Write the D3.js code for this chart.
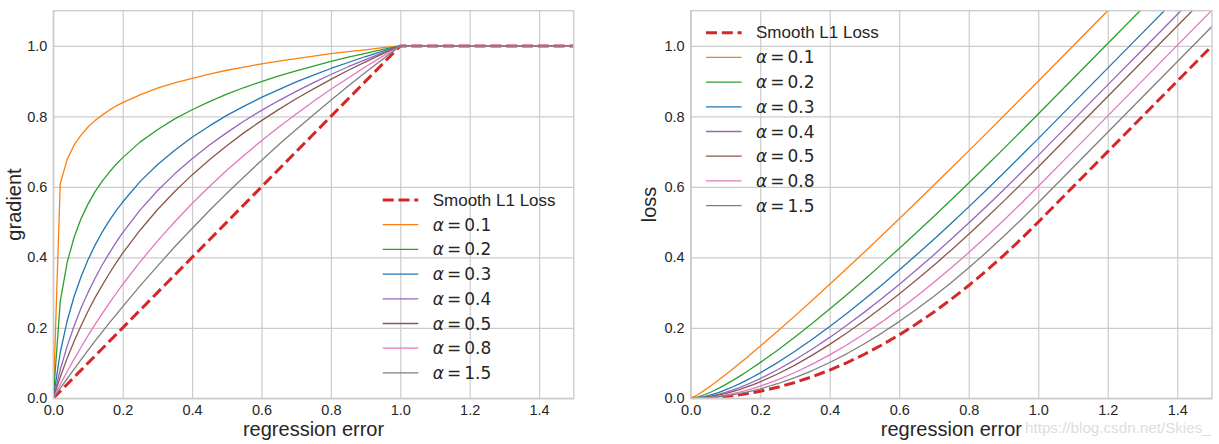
<!DOCTYPE html>
<html>
<head>
<meta charset="utf-8">
<script src="https://cdn.jsdelivr.net/npm/d3@7"></script>
<style>
  html, body { margin: 0; padding: 0; background: #fff; }
  svg { display: block; }
</style>
</head>
<body>
<svg id="chart" width="1219" height="444"></svg>
<script>
// ---------------- data ----------------
const regressionError = [0, 0.02, 0.04, 0.06, 0.08, 0.10, 0.12, 0.14, 0.16, 0.18, 0.20,
  0.25, 0.30, 0.35, 0.40, 0.45, 0.50, 0.55, 0.60, 0.65, 0.70, 0.75, 0.80, 0.85, 0.90, 0.95, 1.00,
  1.10, 1.20, 1.30, 1.40, 1.50];

const seriesNames = ["Smooth L1 Loss", "0.1", "0.2", "0.3", "0.4", "0.5", "0.8", "1.5"];

// gradient panel
const gradSmoothL1 = [0, .02, .04, .06, .08, .10, .12, .14, .16, .18, .20, .25, .30, .35, .40, .45, .50, .55, .60, .65, .70, .75, .80, .85, .90, .95, 1, 1, 1, 1, 1, 1];
const gradAlpha01 = [0, .609, .678, .719, .747, .770, .788, .803, .817, .829, .839, .861, .880, .895, .908, .920, .931, .940, .949, .957, .964, .971, .978, .984, .989, .995, 1, 1, 1, 1, 1, 1];
const gradAlpha02 = [0, .275, .386, .457, .510, .551, .586, .615, .640, .663, .683, .727, .762, .793, .819, .842, .863, .882, .899, .915, .929, .943, .956, .968, .979, .990, 1, 1, 1, 1, 1, 1];
const gradAlpha03 = [0, .130, .220, .289, .345, .393, .434, .470, .502, .531, .557, .615, .663, .704, .741, .773, .803, .829, .854, .876, .898, .917, .936, .953, .970, .985, 1, 1, 1, 1, 1, 1];
const gradAlpha04 = [0, .081, .148, .205, .256, .300, .340, .377, .410, .441, .470, .534, .589, .637, .680, .719, .754, .787, .817, .845, .871, .896, .919, .941, .961, .981, 1, 1, 1, 1, 1, 1];
const gradAlpha05 = [0, .060, .114, .162, .206, .247, .285, .319, .352, .383, .412, .477, .535, .587, .634, .677, .717, .754, .788, .820, .850, .878, .905, .931, .955, .978, 1, 1, 1, 1, 1, 1];
const gradAlpha08 = [0, .039, .076, .111, .145, .178, .209, .239, .268, .296, .323, .387, .446, .501, .553, .601, .647, .690, .731, .770, .807, .843, .877, .909, .941, .971, 1, 1, 1, 1, 1, 1];
const gradAlpha15 = [0, .028, .056, .083, .110, .136, .162, .187, .212, .236, .260, .319, .375, .430, .482, .533, .582, .629, .675, .720, .763, .805, .846, .886, .925, .963, 1, 1, 1, 1, 1, 1];

// loss panel
const lossSmoothL1 = [0, .0002, .0008, .0018, .0032, .005, .0072, .0098, .0128, .0162, .02, .0313, .045, .0613, .08, .1013, .125, .1513, .18, .2113, .245, .2813, .32, .3613, .405, .4513, .5, .6, .7, .8, .9, 1.0];
const lossAlpha01 = [0, .0102, .0232, .0372, .0518, .0670, .0826, .0985, .1147, .1312, .1479, .1904, .2339, .2783, .3234, .3691, .4154, .4622, .5094, .5570, .6051, .6535, .7022, .7512, .8006, .8502, .9000, 1.0, 1.1, 1.2, 1.3, 1.4];
const lossAlpha02 = [0, .0034, .0101, .0186, .0282, .0389, .0503, .0623, .0748, .0879, .1013, .1366, .1739, .2128, .2531, .2946, .3372, .3808, .4253, .4707, .5168, .5636, .6110, .6591, .7078, .7570, .8068, .9068, 1.0068, 1.1068, 1.2068, 1.3068];
const lossAlpha03 = [0, .0014, .0049, .0101, .0164, .0238, .0321, .0411, .0508, .0612, .0721, .1014, .1334, .1676, .2037, .2416, .2810, .3218, .3639, .4071, .4515, .4969, .5432, .5904, .6385, .6874, .7370, .8370, .9370, 1.0370, 1.1370, 1.2370];
const lossAlpha04 = [0, .0008, .0031, .0067, .0113, .0169, .0233, .0305, .0383, .0469, .0560, .0811, .1092, .1398, .1728, .2078, .2446, .2831, .3233, .3648, .4077, .4519, .4973, .5438, .5913, .6399, .6894, .7894, .8894, .9894, 1.0894, 1.1894];
const lossAlpha05 = [0, .0006, .0024, .0051, .0088, .0134, .0187, .0247, .0315, .0388, .0468, .0690, .0943, .1224, .1530, .1858, .2207, .2574, .2960, .3362, .3779, .4211, .4657, .5116, .5588, .6071, .6565, .7565, .8565, .9565, 1.0565, 1.1565];
const lossAlpha08 = [0, .0004, .0015, .0034, .0060, .0092, .0131, .0176, .0227, .0283, .0345, .0523, .0732, .0969, .1232, .1521, .1833, .2168, .2523, .2899, .3293, .3706, .4135, .4582, .5045, .5523, .6016, .7016, .8016, .9016, 1.0016, 1.1016];
const lossAlpha15 = [0, .0003, .0011, .0025, .0044, .0069, .0099, .0134, .0173, .0218, .0268, .0413, .0586, .0788, .1016, .1270, .1548, .1851, .2177, .2526, .2897, .3289, .3702, .4136, .4589, .5061, .5552, .6552, .7552, .8552, .9552, 1.0552];

const xTickValues = [0, 0.2, 0.4, 0.6, 0.8, 1.0, 1.2, 1.4];
const yTickValues = [0, 0.2, 0.4, 0.6, 0.8, 1.0];

// ---------------- drawing ----------------
const colors = ["#d62728", "#ff7f0e", "#2ca02c", "#1f77b4", "#9467bd", "#8c564b", "#e377c2", "#7f7f7f"];
const svg = d3.select("#chart");
const textColor = "#262626";
const gridColor = "#cccccc";
const sansFont = "'Liberation Sans', Arial, sans-serif";
const mathFont = "'DejaVu Sans', sans-serif";

const panels = [
  { id: "g", left: 53.3, right: 573.8, ylabel: "gradient", ylabelX: 14,
    series: [gradSmoothL1, gradAlpha01, gradAlpha02, gradAlpha03, gradAlpha04, gradAlpha05, gradAlpha08, gradAlpha15],
    legend: { lineX: 382.7, textX: 432.7, y0: 200 } },
  { id: "l", left: 690.7, right: 1212.0, ylabel: "loss", ylabelX: 649,
    series: [lossSmoothL1, lossAlpha01, lossAlpha02, lossAlpha03, lossAlpha04, lossAlpha05, lossAlpha08, lossAlpha15],
    legend: { lineX: 706, textX: 756, y0: 32.7 } }
];

const plotTop = 10.7, plotBottom = 398.3;

panels.forEach(p => {
  const x = d3.scaleLinear().domain([0, 1.5]).range([p.left, p.right]);
  const y = d3.scaleLinear().domain([0, 1.1]).range([plotBottom, plotTop]);
  const w = p.right - p.left, h = plotBottom - plotTop;

  // grid
  svg.append("g").attr("transform", `translate(0,${plotBottom})`)
    .call(d3.axisBottom(x).tickValues(xTickValues).tickSize(-h).tickFormat(""))
    .call(g => g.select(".domain").remove())
    .call(g => g.selectAll("line").attr("stroke", gridColor).attr("stroke-width", 1.2));
  svg.append("g").attr("transform", `translate(${p.left},0)`)
    .call(d3.axisLeft(y).tickValues(yTickValues).tickSize(-w).tickFormat(""))
    .call(g => g.select(".domain").remove())
    .call(g => g.selectAll("line").attr("stroke", gridColor).attr("stroke-width", 1.2));

  // tick labels
  svg.append("g").attr("transform", `translate(0,${plotBottom})`)
    .call(d3.axisBottom(x).tickValues(xTickValues).tickSize(0).tickPadding(6).tickFormat(d3.format(".1f")))
    .call(g => g.select(".domain").remove())
    .call(g => g.selectAll("text").attr("fill", textColor).attr("font-size", 14.5).attr("font-family", sansFont));
  svg.append("g").attr("transform", `translate(${p.left},0)`)
    .call(d3.axisLeft(y).tickValues(yTickValues).tickSize(0).tickPadding(6).tickFormat(d3.format(".1f")))
    .call(g => g.select(".domain").remove())
    .call(g => g.selectAll("text").attr("fill", textColor).attr("font-size", 14.5).attr("font-family", sansFont));

  // clip
  svg.append("clipPath").attr("id", "clip-" + p.id)
    .append("rect").attr("x", p.left).attr("y", plotTop).attr("width", w).attr("height", h);

  const line = d3.line().x((d, i) => x(regressionError[i])).y(d => y(d));
  const lines = svg.append("g").attr("clip-path", `url(#clip-${p.id})`);
  p.series.forEach((s, k) => {
    lines.append("path").datum(s)
      .attr("d", line)
      .attr("fill", "none")
      .attr("stroke", colors[k])
      .attr("stroke-width", k === 0 ? 3 : 1.3)
      .attr("stroke-dasharray", k === 0 ? "11,4.8" : null)
      .attr("stroke-linejoin", "round");
  });

  // spines
  svg.append("rect").attr("x", p.left).attr("y", plotTop).attr("width", w).attr("height", h)
    .attr("fill", "none").attr("stroke", gridColor).attr("stroke-width", 1.4);

  // axis labels
  svg.append("text").attr("x", (p.left + p.right) / 2).attr("y", 436)
    .attr("text-anchor", "middle").attr("font-size", 20).attr("font-family", sansFont)
    .attr("fill", textColor).text("regression error");
  svg.append("text")
    .attr("transform", `translate(${p.ylabelX},${(plotTop + plotBottom) / 2}) rotate(-90)`)
    .attr("text-anchor", "middle").attr("dominant-baseline", "central")
    .attr("font-size", 20).attr("font-family", sansFont)
    .attr("fill", textColor).text(p.ylabel);

  // legend
  const lg = svg.append("g");
  seriesNames.forEach((name, k) => {
    const yy = p.legend.y0 + k * 24.7;
    lg.append("line").attr("x1", p.legend.lineX).attr("x2", p.legend.lineX + 35.6)
      .attr("y1", yy).attr("y2", yy)
      .attr("stroke", colors[k]).attr("stroke-width", k === 0 ? 3 : 1.3)
      .attr("stroke-dasharray", k === 0 ? "11,4.8" : null);
    const t = lg.append("text").attr("x", p.legend.textX).attr("y", yy)
      .attr("dominant-baseline", "central").attr("fill", textColor).attr("font-size", 17);
    if (k === 0) {
      t.attr("font-family", sansFont).text(name);
    } else {
      t.attr("font-family", mathFont);
      t.append("tspan").attr("font-style", "italic").text("α");
      t.append("tspan").attr("dx", 3).text("=");
      t.append("tspan").attr("dx", 3).text(name);
    }
  });
});

// watermark
svg.append("text").attr("x", 1025).attr("y", 433)
  .attr("font-size", 15.2).attr("font-family", sansFont).attr("fill", "#dddddd")
  .text("https://blog.csdn.net/Skies_");
</script>
</body>
</html>
